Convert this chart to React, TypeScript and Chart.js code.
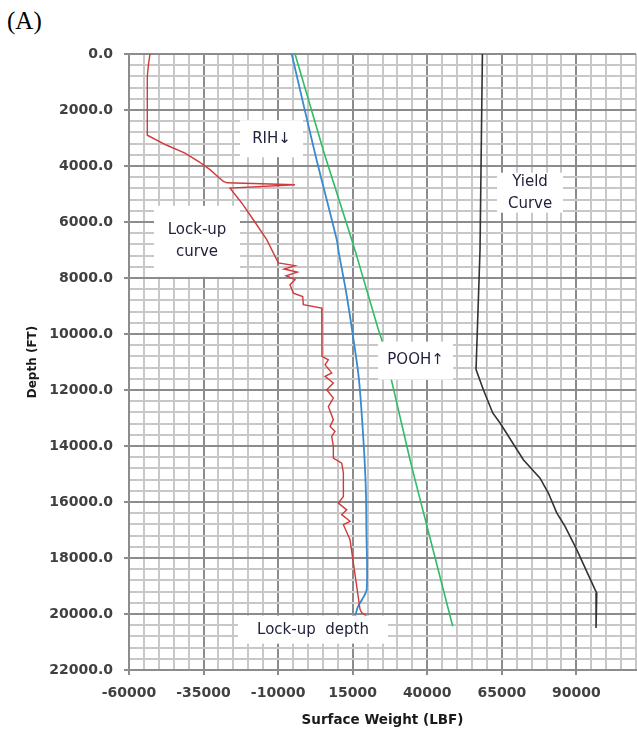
import React, { useEffect, useRef } from "react";
import { Chart, registerables } from "chart.js";

Chart.register(...registerables);

// Axis ranges / tick steps
const X_MIN = -60000;
const X_MAX = 110000;
const X_MINOR = 5000;
const X_MAJOR = 25000;
const Y_MIN = 0;
const Y_MAX = 22000;
const Y_MINOR = 400;
const Y_MAJOR = 2000;

// Lock-up curve (red)
const lockupDepth = [0, 400, 800, 2900, 3250, 3540, 3850, 4130, 4400, 4550, 4600, 4670, 4790, 5320, 5920, 6630, 7460,
  7560, 7680, 7790, 7920, 8060, 8240, 8540, 8660, 8950, 9070, 10800,
  10920, 11100, 11390, 11510, 11750, 11990, 12290, 12590, 13060, 13300, 13480, 13660, 14010, 14430, 14610, 14960,
  15800, 16040, 16280, 16450, 16690, 16810, 17350, 19830, 19950, 20080];
const lockupWeight = [-52960, -53500, -53860, -53860, -47500, -41220, -36500, -32840, -30000, -28370, -27100, -4330, -26130, -22200, -18300, -13820, -9930,
  -4330, -8020, -3560, -7350, -4330, -6010, -4900, -1750, -1550, 4620, 4700,
  6840, 5730, 7970, 5730, 8520, 6290, 8520, 6840, 8520, 7410, 9080, 7970, 8520, 8520, 11330, 11880,
  11880, 10200, 13000, 11330, 14120, 11880, 14120, 17460, 18000, 19700];

// RIH (blue)
const rihDepth = [0, 3560, 6630, 7130, 8500, 10000, 11620, 13780, 15500, 17000, 19130, 19490, 19730, 20080];
const rihWeight = [-5440, 2400, 9650, 10400, 12800, 15000, 17100, 18600, 19400, 19600, 19700, 18100, 16800, 15800];

// POOH (green)
const poohDepth = [0, 3560, 6630, 7130, 9840, 10200, 11690, 14490, 15200, 20440];
const poohWeight = [-4330, 5500, 14680, 16120, 23600, 24750, 28100, 34230, 35900, 48550];

// Yield curve (black)
const yieldDepth = [0, 7000, 11150, 11270, 11990, 12820, 13180, 14490, 15150, 15680, 16390, 16870, 17700, 19130, 19250, 20500];
const yieldWeight = [58500, 57700, 56400, 56370, 58820, 61960, 64420, 72230, 77830, 80610, 83430, 86210, 90130, 96270, 96840, 96600];

// Text boxes (anchor in data units)
const labelTexts = [["RIH↓"], ["Lock-up", "curve"], ["Yield", "Curve"], ["POOH↑"], ["Lock-up  depth"]];
const labelX = [-12210, -37200, 74470, 36080, 1700];
const labelY = [3025, 6690, 4954, 10950, 20560];
const boxHalfW = [31.5, 43, 33, 37.5, 75];
const boxHalfH = [18.5, 35.5, 20, 19, 14];

const pairs = (d: number[], w: number[]) => d.map((y, i) => ({ x: w[i], y }));

const isMajorX = (v: number) => Math.abs(((v - X_MIN) % X_MAJOR)) < 1e-6;
const isMajorY = (v: number) => Math.abs(((v - Y_MIN) % Y_MAJOR)) < 1e-6;

const MAJOR = "#8c8c8c";
const MINOR = "#c8c8c8";

const boxPlugin = {
  id: "textBoxes",
  afterDatasetsDraw(chart: any) {
    const { ctx, scales } = chart;
    const xs = scales.x;
    const ys = scales.y;
    ctx.save();
    for (let i = 0; i < labelTexts.length; i++) {
      const cx = xs.getPixelForValue(labelX[i]);
      const cy = ys.getPixelForValue(labelY[i]);
      ctx.fillStyle = "#ffffff";
      ctx.fillRect(cx - boxHalfW[i], cy - boxHalfH[i], boxHalfW[i] * 2, boxHalfH[i] * 2);
      ctx.fillStyle = "#22223e";
      ctx.font = "15px 'DejaVu Sans'";
      ctx.textAlign = "center";
      ctx.textBaseline = "middle";
      const lines = labelTexts[i];
      const lh = 22;
      const start = cy - ((lines.length - 1) * lh) / 2;
      lines.forEach((t, j) => ctx.fillText(t, cx, start + j * lh));
    }
    ctx.restore();
  },
};

export default function App() {
  const ref = useRef<HTMLCanvasElement>(null);

  useEffect(() => {
    if (!ref.current) return;
    const chart = new Chart(ref.current, {
      type: "scatter",
      data: {
        datasets: [
          { data: pairs(lockupDepth, lockupWeight), borderColor: "#d03a3a", borderWidth: 1.4, tension: 0 },
          { data: pairs(rihDepth, rihWeight), borderColor: "#3a8ad0", borderWidth: 1.8, tension: 0.3 },
          { data: pairs(poohDepth, poohWeight), borderColor: "#2ebd62", borderWidth: 1.6, tension: 0 },
          { data: pairs(yieldDepth, yieldWeight), borderColor: "#333333", borderWidth: 1.6, tension: 0 },
        ].map((d) => ({ ...d, showLine: true, pointRadius: 0, fill: false })),
      },
      options: {
        animation: false,
        responsive: false,
        layout: { padding: { top: 54, right: 1, left: 0, bottom: 0 } },
        plugins: { legend: { display: false }, tooltip: { enabled: false } },
        scales: {
          x: {
            type: "linear",
            position: "bottom",
            min: X_MIN,
            max: X_MAX,
            afterFit: (s: any) => {
              s.height = 61;
              s.paddingLeft = 0;
              s.paddingRight = 0;
            },
            ticks: {
              stepSize: X_MINOR,
              autoSkip: false,
              maxRotation: 0,
              padding: 10,
              color: "#404040",
              font: { family: "DejaVu Sans", size: 14, weight: "bold" },
              callback: (v: any) => (isMajorX(Number(v)) ? String(v) : ""),
            },
            grid: {
              color: (c: any) => (isMajorX(c.tick.value) ? MAJOR : MINOR),
              lineWidth: 2,
              tickLength: 5,
              tickColor: (c: any) => (isMajorX(c.tick.value) ? MAJOR : "rgba(0,0,0,0)"),
            },
            border: { color: MAJOR, width: 2 },
            title: {
              display: true,
              text: "Surface Weight (LBF)",
              color: "#1a1a1a",
              padding: { top: 0, bottom: 2 },
              font: { family: "DejaVu Sans", size: 13.5, weight: "bold" },
            },
          },
          y: {
            type: "linear",
            reverse: true,
            min: Y_MIN,
            max: Y_MAX,
            afterFit: (s: any) => {
              s.width = 129;
              s.paddingTop = 0;
              s.paddingBottom = 0;
            },
            ticks: {
              stepSize: Y_MINOR,
              autoSkip: false,
              padding: 11,
              color: "#404040",
              font: { family: "DejaVu Sans", size: 14, weight: "bold" },
              callback: (v: any) => (isMajorY(Number(v)) ? Number(v).toFixed(1) : ""),
            },
            grid: {
              color: (c: any) => (isMajorY(c.tick.value) ? MAJOR : MINOR),
              lineWidth: 2,
              tickLength: 5,
              tickColor: (c: any) => (isMajorY(c.tick.value) ? MAJOR : "rgba(0,0,0,0)"),
            },
            border: { color: MAJOR, width: 2 },
            title: {
              display: true,
              text: "Depth (FT)",
              color: "#1a1a1a",
              padding: { top: 26, bottom: 0 },
              font: { family: "DejaVu Sans", size: 12, weight: "bold" },
            },
          },
        },
      },
      plugins: [boxPlugin],
    } as any);
    return () => chart.destroy();
  }, []);

  return (
    <div style={{ position: "fixed", left: 0, top: 0, width: 637, height: 731, background: "#fff" }}>
      <div
        style={{
          position: "absolute",
          left: 7,
          top: 8,
          fontFamily: "'Liberation Serif', 'Times New Roman', serif",
          fontSize: 25,
          lineHeight: 1,
          color: "#000",
        }}
      >
        (A)
      </div>
      <canvas ref={ref} width={637} height={731} style={{ position: "absolute", left: 0, top: 0 }} />
    </div>
  );
}
